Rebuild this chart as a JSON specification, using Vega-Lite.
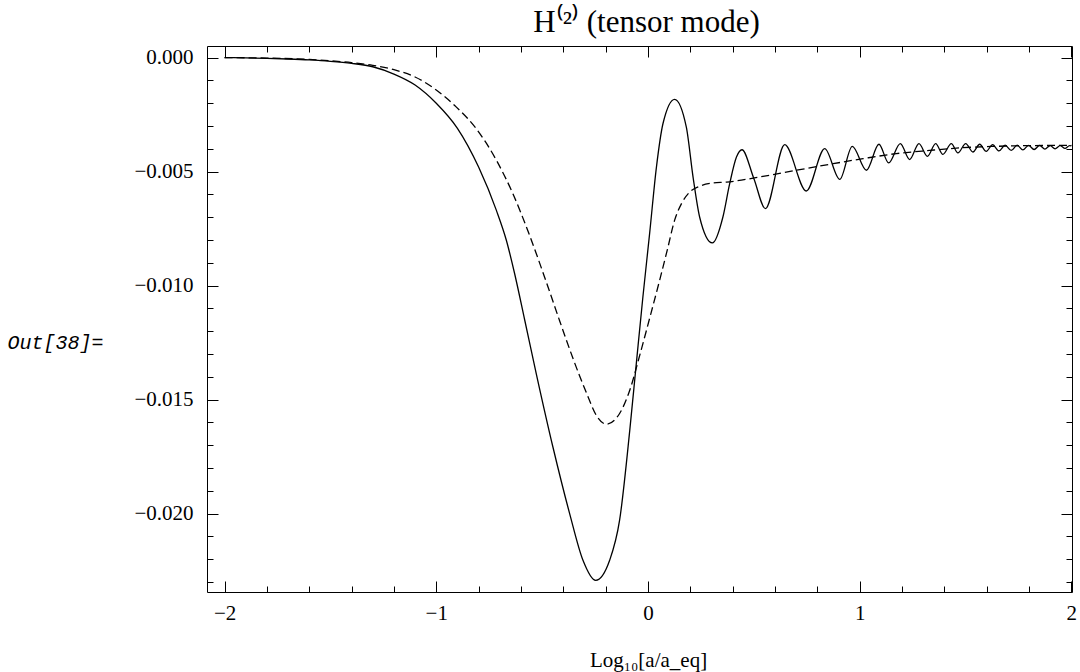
{
  "$schema": "https://vega.github.io/schema/vega-lite/v6.json",
  "width": 865,
  "height": 546,
  "autosize": {"type": "none"},
  "padding": {"left": 207, "top": 46, "right": 8, "bottom": 80},
  "background": "white",
  "title": {"text": "H⁽²⁾ (tensor mode)", "font": "Liberation Serif", "fontSize": 31, "fontWeight": "normal", "color": "black", "anchor": "middle", "frame": "group", "dx": 7, "dy": 30, "offset": 13, "baseline": "alphabetic"},
  "config": {
    "view": {"stroke": null},
    "axis": {"grid": false, "domainColor": "black", "tickColor": "black", "labelColor": "black", "titleColor": "black", "labelFont": "Liberation Serif", "labelFontSize": 21, "titleFont": "Liberation Serif", "titleFontSize": 21, "titleFontWeight": "normal", "labelFlush": false, "labelOverlap": false, "labelBound": false, "domainWidth": 1, "tickWidth": 1}
  },
  "datasets": {
    "solid": [
      {"X": -2.0, "Y": 0},
      {"X": -1.9, "Y": -0.00001},
      {"X": -1.8, "Y": -0.00003},
      {"X": -1.7, "Y": -0.00006},
      {"X": -1.6, "Y": -0.0001},
      {"X": -1.5, "Y": -0.00016},
      {"X": -1.4, "Y": -0.00025},
      {"X": -1.3, "Y": -0.0004},
      {"X": -1.2, "Y": -0.00072},
      {"X": -1.1, "Y": -0.0012},
      {"X": -1.0, "Y": -0.002},
      {"X": -0.9, "Y": -0.0031},
      {"X": -0.8, "Y": -0.0048},
      {"X": -0.716, "Y": -0.0067},
      {"X": -0.669, "Y": -0.00801},
      {"X": -0.63, "Y": -0.00947},
      {"X": -0.582, "Y": -0.01152},
      {"X": -0.527, "Y": -0.01389},
      {"X": -0.449, "Y": -0.01708},
      {"X": -0.37, "Y": -0.02},
      {"X": -0.307, "Y": -0.02205},
      {"X": -0.247, "Y": -0.02293},
      {"X": -0.181, "Y": -0.02205},
      {"X": -0.134, "Y": -0.02029},
      {"X": -0.086, "Y": -0.01635},
      {"X": -0.055, "Y": -0.01341},
      {"X": -0.024, "Y": -0.0105},
      {"X": 0.008, "Y": -0.0077},
      {"X": 0.04, "Y": -0.0048},
      {"X": 0.071, "Y": -0.00289},
      {"X": 0.126, "Y": -0.00183},
      {"X": 0.181, "Y": -0.00304},
      {"X": 0.213, "Y": -0.00524},
      {"X": 0.244, "Y": -0.00699},
      {"X": 0.304, "Y": -0.00813},
      {"X": 0.354, "Y": -0.00699},
      {"X": 0.386, "Y": -0.00553},
      {"X": 0.418, "Y": -0.00436},
      {"X": 0.444, "Y": -0.00404},
      {"X": 0.5, "Y": -0.0053},
      {"X": 0.555, "Y": -0.00662},
      {"X": 0.646, "Y": -0.00382},
      {"X": 0.748, "Y": -0.00585},
      {"X": 0.835, "Y": -0.00399},
      {"X": 0.906, "Y": -0.00534},
      {"X": 0.965, "Y": -0.00389},
      {"X": 1.032, "Y": -0.00494},
      {"X": 1.091, "Y": -0.0038},
      {"X": 1.137, "Y": -0.00462},
      {"X": 1.192, "Y": -0.00377},
      {"X": 1.236, "Y": -0.00447},
      {"X": 1.28, "Y": -0.00377},
      {"X": 1.32, "Y": -0.00433},
      {"X": 1.359, "Y": -0.00377},
      {"X": 1.393, "Y": -0.00424},
      {"X": 1.433, "Y": -0.00377},
      {"X": 1.464, "Y": -0.00418},
      {"X": 1.501, "Y": -0.00377},
      {"X": 1.535, "Y": -0.00414},
      {"X": 1.567, "Y": -0.0038},
      {"X": 1.598, "Y": -0.00411},
      {"X": 1.628, "Y": -0.00382},
      {"X": 1.658, "Y": -0.00409},
      {"X": 1.687, "Y": -0.00384},
      {"X": 1.716, "Y": -0.00407},
      {"X": 1.744, "Y": -0.00384},
      {"X": 1.771, "Y": -0.00405},
      {"X": 1.798, "Y": -0.00385},
      {"X": 1.824, "Y": -0.00403},
      {"X": 1.85, "Y": -0.00385},
      {"X": 1.875, "Y": -0.00401},
      {"X": 1.9, "Y": -0.00386},
      {"X": 1.923, "Y": -0.004},
      {"X": 1.947, "Y": -0.00386},
      {"X": 1.97, "Y": -0.00398},
      {"X": 1.992, "Y": -0.00386},
      {"X": 2.0, "Y": -0.00387}
    ],
    "dashed": [
      {"X": -2.0, "Y": 0},
      {"X": -1.8, "Y": -0.00002},
      {"X": -1.6, "Y": -0.00008},
      {"X": -1.5, "Y": -0.00014},
      {"X": -1.4, "Y": -0.00022},
      {"X": -1.3, "Y": -0.00034},
      {"X": -1.2, "Y": -0.00053},
      {"X": -1.1, "Y": -0.00085},
      {"X": -1.0, "Y": -0.00142},
      {"X": -0.905, "Y": -0.00217},
      {"X": -0.811, "Y": -0.00312},
      {"X": -0.716, "Y": -0.0045},
      {"X": -0.638, "Y": -0.00597},
      {"X": -0.559, "Y": -0.0078},
      {"X": -0.48, "Y": -0.00985},
      {"X": -0.417, "Y": -0.01155},
      {"X": -0.354, "Y": -0.0132},
      {"X": -0.291, "Y": -0.0147},
      {"X": -0.24, "Y": -0.01575},
      {"X": -0.197, "Y": -0.01608},
      {"X": -0.134, "Y": -0.01561},
      {"X": -0.086, "Y": -0.01459},
      {"X": -0.039, "Y": -0.01306},
      {"X": 0.008, "Y": -0.01143},
      {"X": 0.055, "Y": -0.00977},
      {"X": 0.093, "Y": -0.00837},
      {"X": 0.126, "Y": -0.00713},
      {"X": 0.159, "Y": -0.00639},
      {"X": 0.197, "Y": -0.0059},
      {"X": 0.244, "Y": -0.00564},
      {"X": 0.306, "Y": -0.0055},
      {"X": 0.37, "Y": -0.00546},
      {"X": 0.543, "Y": -0.00521},
      {"X": 0.701, "Y": -0.00494},
      {"X": 0.858, "Y": -0.00468},
      {"X": 1.016, "Y": -0.00443},
      {"X": 1.173, "Y": -0.00421},
      {"X": 1.331, "Y": -0.00407},
      {"X": 1.488, "Y": -0.00395},
      {"X": 1.646, "Y": -0.00389},
      {"X": 1.803, "Y": -0.00386},
      {"X": 2.0, "Y": -0.00385}
    ]
  },
  "resolve": {"axis": {"x": "independent", "y": "independent"}},
  "layer": [
    {
      "data": {"name": "solid"},
      "mark": {"type": "line", "color": "black", "strokeWidth": 1.3, "interpolate": "monotone", "clip": true},
      "encoding": {
        "x": {"field": "X", "type": "quantitative", "scale": {"domain": [-2.083, 2.003], "nice": false, "zero": false},
          "axis": {"orient": "bottom", "values": [-2, -1, 0, 1, 2], "format": "d", "tickSize": -11, "labelPadding": 21, "title": "Log₁₀[a/a_eq]", "titleX": 441, "titleY": 74, "titleAlign": "center", "titleBaseline": "alphabetic"}},
        "y": {"field": "Y", "type": "quantitative", "scale": {"domain": [-0.02344, 0.00051], "nice": false, "zero": false},
          "axis": {"orient": "left", "values": [0, -0.005, -0.01, -0.015, -0.02], "format": ".3f", "tickSize": -11, "labelPadding": 25, "title": "Out[38]=", "titleAngle": 0, "titleAlign": "left", "titleBaseline": "alphabetic", "titleX": -200, "titleY": 302, "titleFont": "Liberation Mono", "titleFontStyle": "italic", "titleFontWeight": "normal", "titleFontSize": 20}}
      }
    },
    {
      "data": {"name": "dashed"},
      "mark": {"type": "line", "color": "black", "strokeWidth": 1.3, "strokeDash": [8, 4], "interpolate": "monotone", "clip": true},
      "encoding": {
        "x": {"field": "X", "type": "quantitative", "scale": {"domain": [-2.083, 2.003], "nice": false, "zero": false},
          "axis": {"orient": "bottom", "values": [-1.8, -1.6, -1.4, -1.2, -0.8, -0.6, -0.4, -0.2, 0.2, 0.4, 0.6, 0.8, 1.2, 1.4, 1.6, 1.8], "labels": false, "tickSize": -6, "domain": false, "title": null}},
        "y": {"field": "Y", "type": "quantitative", "scale": {"domain": [-0.02344, 0.00051], "nice": false, "zero": false},
          "axis": {"orient": "left", "values": [-0.001, -0.002, -0.003, -0.004, -0.006, -0.007, -0.008, -0.009, -0.011, -0.012, -0.013, -0.014, -0.016, -0.017, -0.018, -0.019, -0.021, -0.022, -0.023], "labels": false, "tickSize": -6, "domain": false, "title": null}}
      }
    },
    {
      "data": {"name": "solid"},
      "mark": {"type": "line", "opacity": 0},
      "encoding": {
        "x": {"field": "X", "type": "quantitative", "scale": {"domain": [-2.083, 2.003], "nice": false, "zero": false},
          "axis": {"orient": "top", "values": [-2, -1, 0, 1, 2], "labels": false, "tickSize": -11, "title": null}},
        "y": {"field": "Y", "type": "quantitative", "scale": {"domain": [-0.02344, 0.00051], "nice": false, "zero": false},
          "axis": {"orient": "right", "values": [0, -0.005, -0.01, -0.015, -0.02], "labels": false, "tickSize": -11, "title": null}}
      }
    },
    {
      "data": {"name": "solid"},
      "mark": {"type": "line", "opacity": 0},
      "encoding": {
        "x": {"field": "X", "type": "quantitative", "scale": {"domain": [-2.083, 2.003], "nice": false, "zero": false},
          "axis": {"orient": "top", "values": [-1.8, -1.6, -1.4, -1.2, -0.8, -0.6, -0.4, -0.2, 0.2, 0.4, 0.6, 0.8, 1.2, 1.4, 1.6, 1.8], "labels": false, "tickSize": -6, "domain": false, "title": null}},
        "y": {"field": "Y", "type": "quantitative", "scale": {"domain": [-0.02344, 0.00051], "nice": false, "zero": false},
          "axis": {"orient": "right", "values": [-0.001, -0.002, -0.003, -0.004, -0.006, -0.007, -0.008, -0.009, -0.011, -0.012, -0.013, -0.014, -0.016, -0.017, -0.018, -0.019, -0.021, -0.022, -0.023], "labels": false, "tickSize": -6, "domain": false, "title": null}}
      }
    }
  ]
}
